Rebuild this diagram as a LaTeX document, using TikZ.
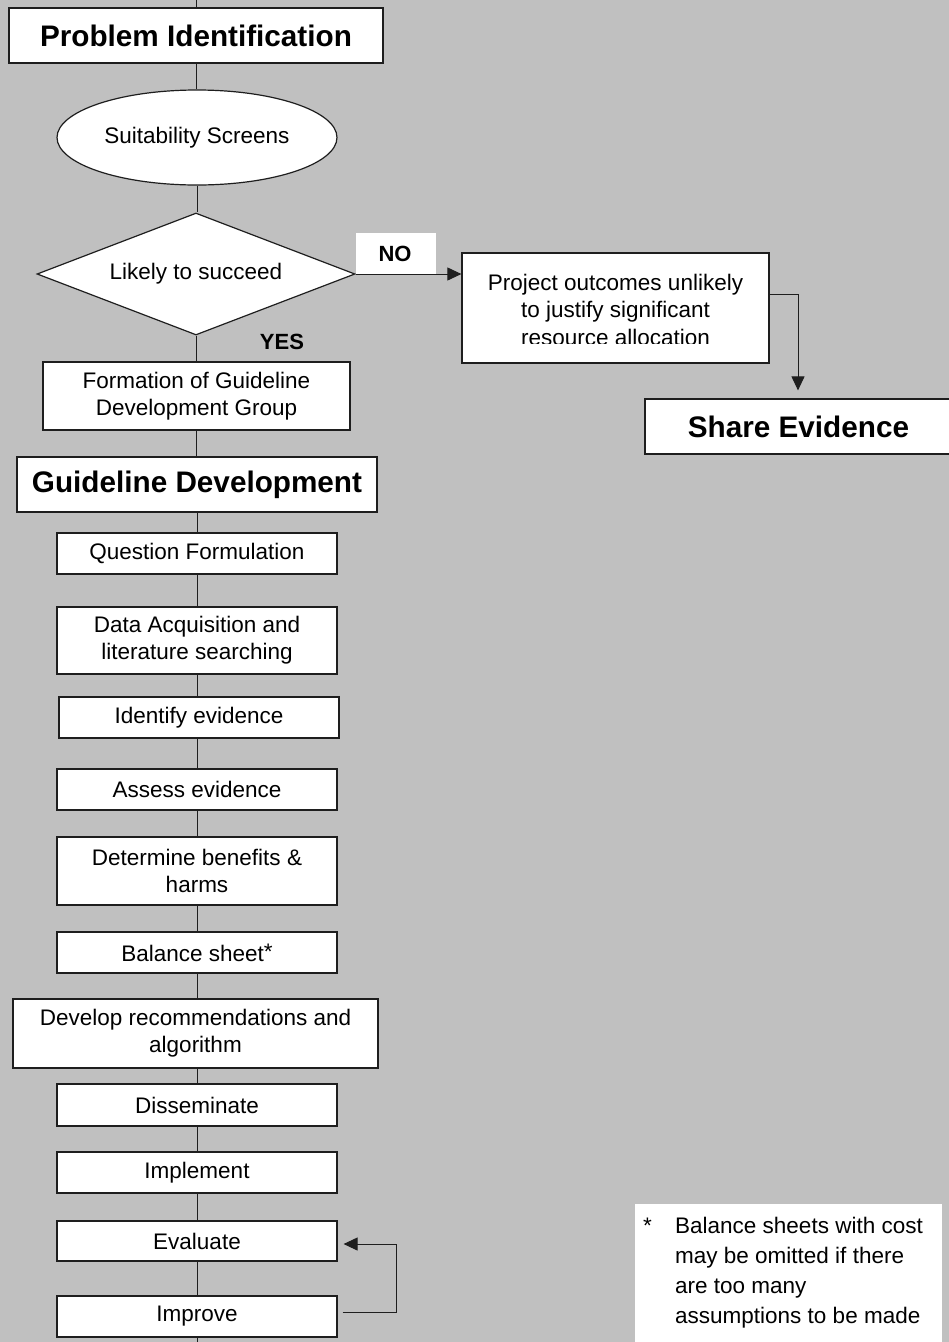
\documentclass[tikz,border=0pt]{standalone}
\usepackage{fontspec}
\setmainfont{Liberation Sans}
\usetikzlibrary{shapes.geometric,arrows.meta,calc}
\definecolor{bg}{HTML}{C0C0C0}
\definecolor{ln}{HTML}{1E1E1E}
\begin{document}
\begin{tikzpicture}[x=1pt,y=-1pt,
  box/.style={draw=ln,line width=1.2pt,fill=white,inner sep=0pt,align=center,
    font=\fontsize{22.5}{27}\selectfont},
  titlebox/.style={box,font=\fontsize{29.7}{34}\selectfont\bfseries},
  lbl/.style={inner sep=0pt,font=\fontsize{22}{26}\selectfont\bfseries},
  conn/.style={draw=ln,line width=1pt},
  arr/.style={conn,-{Triangle[length=14pt,width=13pt]}}]
\useasboundingbox (0,0) rectangle (949,1342);
\clip (0,0) rectangle (949,1342);
\fill[bg] (0,0) rectangle (949,1342);

% main column
\node[titlebox,minimum width=374pt,minimum height=55pt] (prob) at (196,35.5) {Problem Identification};
\node[box,ellipse,minimum width=280pt,minimum height=95pt] (scr) at (197,137.5) {Suitability Screens};
\node[box,diamond,aspect=2.6,minimum width=318pt,minimum height=122pt] (dec) at (196,274) {Likely to succeed};
\node[box,minimum width=307pt,minimum height=68pt] (form) at (196.5,396) {Formation of Guideline\\Development Group};
\node[titlebox,minimum width=360pt,minimum height=55pt] (gd) at (197,484.5) {Guideline Development};
\node[box,minimum width=280pt,minimum height=41pt] (qf) at (197,553.5) {Question Formulation};
\node[box,minimum width=280pt,minimum height=67pt] (da) at (197,640.5) {Data Acquisition and\\literature searching};
\node[box,minimum width=280pt,minimum height=41pt] (ie) at (199,717.5) {Identify evidence};
\node[box,minimum width=280pt,minimum height=41pt] (ae) at (197,789.5) {Assess evidence};
\node[box,minimum width=280pt,minimum height=68pt] (db) at (197,871) {Determine benefits \&\\harms};
\node[box,minimum width=280pt,minimum height=41pt] (bs) at (197,952.5) {Balance sheet\raisebox{2pt}{*}};
\node[box,minimum width=365pt,minimum height=69pt] (dr) at (195.5,1033.5) {Develop recommendations and\\algorithm};
\node[box,minimum width=280pt,minimum height=42pt] (dis) at (197,1105) {Disseminate};
\node[box,minimum width=280pt,minimum height=41pt] (imp) at (197,1172.5) {Implement};
\node[box,minimum width=280pt,minimum height=40pt] (ev) at (197,1241) {Evaluate};
\node[box,minimum width=280pt,minimum height=41pt] (impr) at (197,1316.5) {Improve};

\coordinate (top) at (196,0);
\coordinate (bot) at (196,1342);

% spine
\draw[conn] (top) -- (top |- prob.north);
\draw[conn] (prob.south) -- (prob.south |- scr.north);
\draw[conn] (scr.south) -- (scr.south |- dec.north);
\draw[conn] (dec.south) -- (dec.south |- form.north);
\draw[conn] (form.south) -- (form.south |- gd.north);
\draw[conn] (gd.south) -- (gd.south |- qf.north);
\draw[conn] (qf.south) -- (qf.south |- da.north);
\draw[conn] (da.south) -- (da.south |- ie.north);
\draw[conn] (da.south |- ie.south) -- (da.south |- ae.north);
\draw[conn] (ae.south) -- (ae.south |- db.north);
\draw[conn] (db.south) -- (db.south |- bs.north);
\draw[conn] (bs.south) -- (bs.south |- dr.north);
\draw[conn] (bs.south |- dr.south) -- (bs.south |- dis.north);
\draw[conn] (dis.south) -- (dis.south |- imp.north);
\draw[conn] (imp.south) -- (imp.south |- ev.north);
\draw[conn] (ev.south) -- (ev.south |- impr.north);
\draw[conn] (impr.south) -- (impr.south |- bot);

% labels
\node[fill=white,minimum width=80pt,minimum height=41pt,inner sep=0pt] (nobox) at (396,253.5) {};
\node[lbl] (no) at (395,254) {NO};
\node[lbl] (yes) at (282,342) {YES};

% NO branch
\node[box,minimum width=307pt,minimum height=110pt] (proj) at (615.5,308) {};
\begin{scope}
  \clip (462,253) rectangle (769,343);
  \node[align=center,inner sep=0pt,font=\fontsize{22.5}{27.5}\selectfont] (projtext) at (615.5,309.5)
    {Project outcomes unlikely\\to justify significant\\resource allocation};
\end{scope}
\node[titlebox,minimum width=307pt,minimum height=55pt] (share) at (798.5,426.5) {Share Evidence};

\draw[arr] (dec.east) -- (dec.east -| proj.west);
\coordinate (pj) at (798,294);
\draw[arr,shorten >=8pt] (proj.east |- pj) -- (pj) -- (pj |- share.north);

% feedback loop
\coordinate (lp) at (396,1312);
\draw[arr] ($(impr.east)+(5,-4.5)$) -- (lp) |- ($(ev.east)+(6,3)$);

% footnote
\node[fill=white,minimum width=307pt,minimum height=150pt,inner sep=0pt,anchor=north west] (notebox) at (635,1204) {};
\node[anchor=base west,inner sep=0pt,font=\fontsize{22.5}{30}\selectfont] (note) at (643,1233)
  {\begin{tabular}[t]{@{}p{32pt}@{}l@{}}
   * & Balance sheets with cost\\
     & may be omitted if there\\
     & are too many\\
     & assumptions to be made
   \end{tabular}};
\end{tikzpicture}
\end{document}
